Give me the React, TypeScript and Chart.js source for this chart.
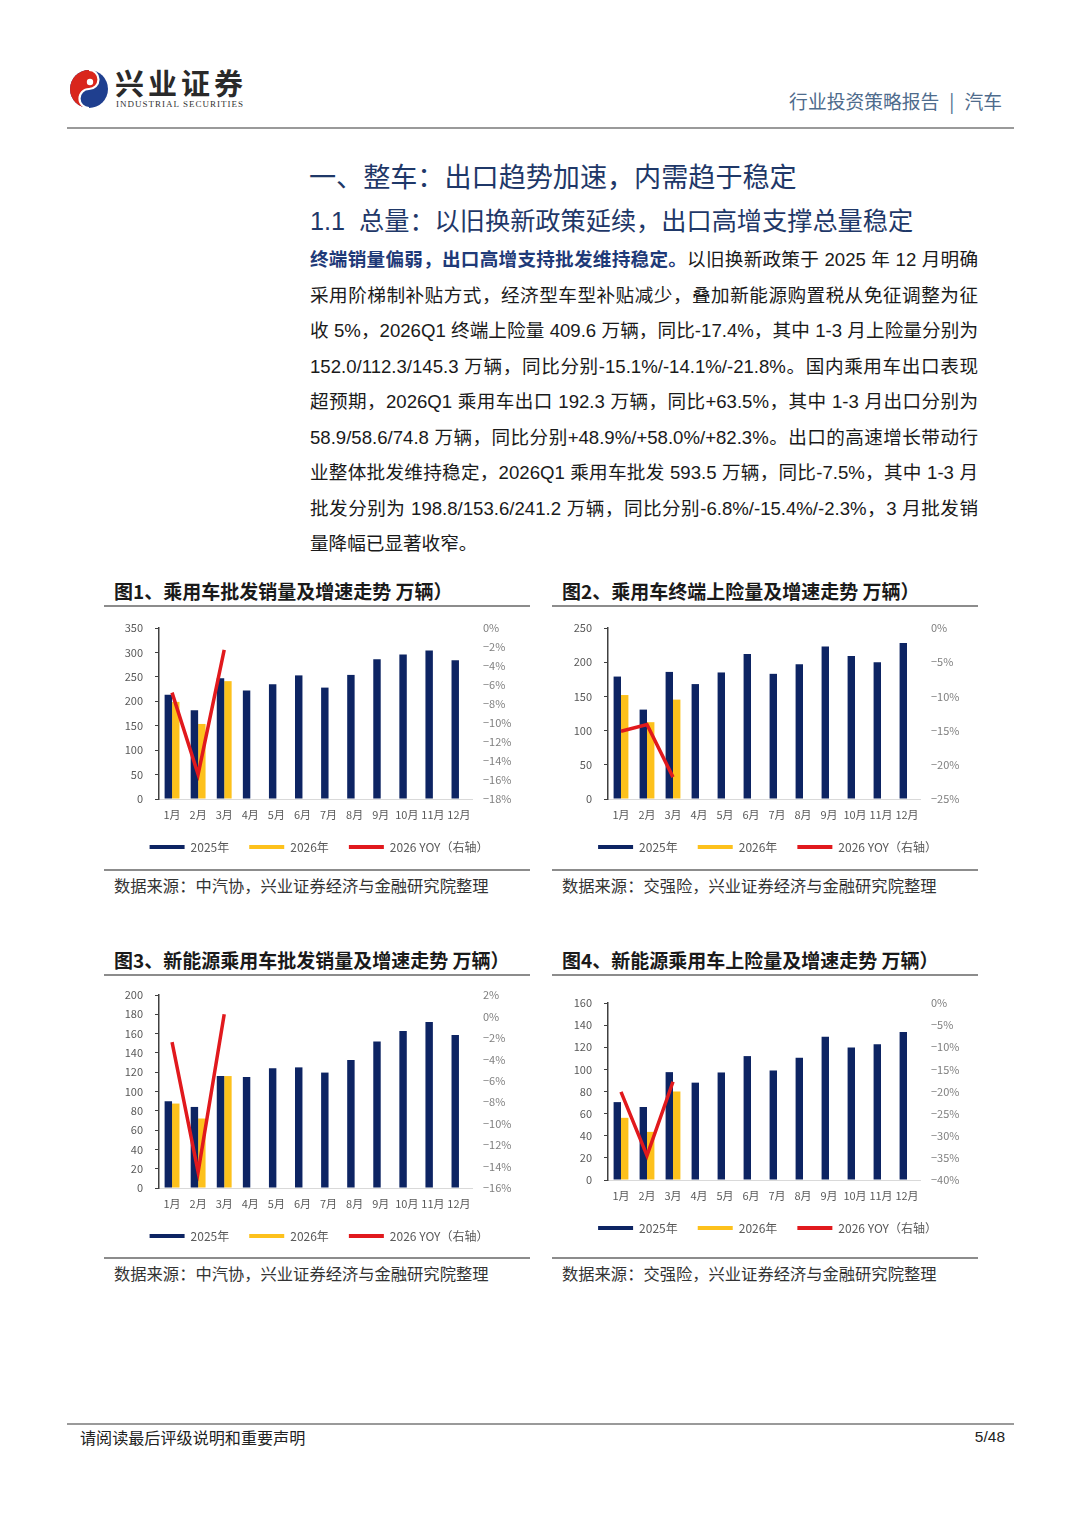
import React, { useEffect, useRef } from 'react';
import { Chart, registerables } from 'chart.js';

Chart.register(...registerables);
Chart.defaults.font.family = '"Noto Sans CJK SC", "Noto Sans", sans-serif';

// ---------- data ----------
const months = ['1月', '2月', '3月', '4月', '5月', '6月', '7月', '8月', '9月', '10月', '11月', '12月'];
const legend2025 = '2025年';
const legend2026 = '2026年';
const legendYoy = '2026 YOY（右轴）';

// 图1 乘用车批发销量（万辆）及2026同比（%）
const wholesale2025 = [213.3, 181.6, 246.9, 222, 235, 253, 228, 254, 286, 296, 304, 284];
const wholesale2026 = [198.8, 153.6, 241.2, null, null, null, null, null, null, null, null, null];
const wholesaleYoy = [-6.8, -15.4, -2.3, null, null, null, null, null, null, null, null, null];

// 图2 乘用车终端上险量
const insured2025 = [179.0, 130.7, 185.8, 168, 185, 212, 183, 197, 223, 209, 200, 228];
const insured2026 = [152.0, 112.3, 145.3, null, null, null, null, null, null, null, null, null];
const insuredYoy = [-15.1, -14.1, -21.8, null, null, null, null, null, null, null, null, null];

// 图3 新能源乘用车批发销量
const nevWholesale2025 = [90, 84, 116, 115, 124, 125, 119.6, 132.7, 151.7, 162.7, 172, 158.6];
const nevWholesale2026 = [87.5, 72, 116, null, null, null, null, null, null, null, null, null];
const nevWholesaleYoy = [-2.4, -14.5, 0.2, null, null, null, null, null, null, null, null, null];

// 图4 新能源乘用车上险量
const nevInsured2025 = [70.4, 66, 97.5, 88, 97.2, 112, 99, 110.5, 129.5, 119.8, 122.6, 133.8];
const nevInsured2026 = [56.2, 43.5, 80, null, null, null, null, null, null, null, null, null];
const nevInsuredYoy = [-20.1, -34.5, -17.8, null, null, null, null, null, null, null, null, null];

// axis ranges: [min, max, step]
const axis1Left = [0, 350, 50];
const axis1Right = [-18, 0, 2];
const axis2Left = [0, 250, 50];
const axis2Right = [-25, 0, 5];
const axis3Left = [0, 200, 20];
const axis3Right = [-16, 2, 2];
const axis4Left = [0, 160, 20];
const axis4Right = [-40, 0, 5];

const paragraphLines = [
  '采用阶梯制补贴方式，经济型车型补贴减少，叠加新能源购置税从免征调整为征',
  '收 5%，2026Q1 终端上险量 409.6 万辆，同比-17.4%，其中 1-3 月上险量分别为',
  '152.0/112.3/145.3 万辆，同比分别-15.1%/-14.1%/-21.8%。国内乘用车出口表现',
  '超预期，2026Q1 乘用车出口 192.3 万辆，同比+63.5%，其中 1-3 月出口分别为',
  '58.9/58.6/74.8 万辆，同比分别+48.9%/+58.0%/+82.3%。出口的高速增长带动行',
  '业整体批发维持稳定，2026Q1 乘用车批发 593.5 万辆，同比-7.5%，其中 1-3 月',
  '批发分别为 198.8/153.6/241.2 万辆，同比分别-6.8%/-15.4%/-2.3%，3 月批发销',
  '量降幅已显著收窄。',
];

// ---------- styles ----------
const NAVY = '#0d2463';
const YELLOW = '#fdc11c';
const RED = '#e1191d';
const CJK = '"Noto Sans CJK SC", sans-serif';
const BODY = '"Liberation Sans", "Noto Sans CJK SC", sans-serif';

function fmtPct(v: number) {
  if (v === 0) return '0%';
  return (v < 0 ? '\u2212' + Math.abs(v) : String(v)) + '%';
}

type ComboProps = {
  s2025: (number | null)[];
  s2026: (number | null)[];
  yoy: (number | null)[];
  left: number[];
  right: number[];
  L: number; R: number; T: number; B: number;
};

function ComboChart({ s2025, s2026, yoy, left, right, L, R, T, B }: ComboProps) {
  const ref = useRef<HTMLCanvasElement>(null);
  const LW = 51, RW = 58, PT = 19, XH = 22, PB = 2;
  const width = R - L + LW + RW;
  const height = B - T + PT + XH + 42 + PB;
  useEffect(() => {
    const chart = new Chart(ref.current as HTMLCanvasElement, {
      type: 'bar',
      data: {
        labels: months,
        datasets: [
          { type: 'bar', label: legend2025, data: s2025, backgroundColor: NAVY, borderWidth: 0, yAxisID: 'y', order: 1, categoryPercentage: 0.57, barPercentage: 1 } as any,
          { type: 'bar', label: legend2026, data: s2026, backgroundColor: YELLOW, borderWidth: 0, yAxisID: 'y', order: 2, categoryPercentage: 0.57, barPercentage: 1 } as any,
          { type: 'line', label: legendYoy, data: yoy, borderColor: RED, backgroundColor: RED, borderWidth: 3.5, pointRadius: 0, yAxisID: 'y1', order: 0, tension: 0, borderJoinStyle: 'miter' } as any,
        ],
      },
      options: {
        responsive: false,
        animation: false,
        devicePixelRatio: 1,
        layout: { padding: { left: 0, right: 0, top: PT, bottom: PB } },
        plugins: {
          tooltip: { enabled: false },
          legend: {
            position: 'bottom',
            labels: {
              boxWidth: 35,
              boxHeight: 4,
              padding: 20,
              color: '#595959',
              font: { size: 12, family: CJK },
              sort: (a: any, b: any) => a.datasetIndex - b.datasetIndex,
              generateLabels: (c: any) =>
                Chart.defaults.plugins.legend.labels.generateLabels(c).map((it: any) => ({ ...it, lineWidth: 0 })),
            },
          },
        },
        scales: {
          x: {
            type: 'category',
            offset: true,
            grid: { display: false, drawTicks: false },
            border: { display: true, color: '#d9d9d9', width: 1 },
            ticks: { autoSkip: false, maxRotation: 0, minRotation: 0, padding: 9, color: '#595959', font: { size: 11, family: CJK } },
            afterFit: (s: any) => { s.height = XH; },
          },
          y: {
            position: 'left',
            min: left[0], max: left[1],
            grid: { display: true, drawOnChartArea: false, drawTicks: true, tickLength: 4, color: '#404040', lineWidth: 1 },
            border: { display: true, color: '#404040', width: 1.5 },
            ticks: { stepSize: left[2], padding: 12, color: '#595959', font: { size: 11, family: CJK } },
            afterFit: (s: any) => { s.width = LW; },
          },
          y1: {
            position: 'right',
            min: right[0], max: right[1],
            grid: { display: false, drawTicks: false },
            border: { display: false },
            ticks: { stepSize: right[2], padding: 11, color: '#7f7f7f', font: { size: 11, family: CJK }, callback: (v: any) => fmtPct(Number(v)) },
            afterFit: (s: any) => { s.width = RW; },
          },
        },
      } as any,
    });
    return () => chart.destroy();
  }, []);
  return (
    <canvas
      ref={ref}
      width={width}
      height={height}
      style={{ position: 'absolute', left: L - LW, top: T - PT, width, height }}
    />
  );
}

function Txt({ x, cy, size, children, style }: any) {
  const lh = Math.round(size * 1.4);
  return (
    <div style={{ position: 'absolute', left: x, top: cy - lh / 2, fontSize: size, lineHeight: lh + 'px', whiteSpace: 'nowrap', ...style }}>
      {children}
    </div>
  );
}

function HLine({ x1, x2, y, color = '#8c8c8c', w = 1.5 }: any) {
  return <div style={{ position: 'absolute', left: x1, top: y - w / 2, width: x2 - x1, height: w, background: color }} />;
}

function ChartBlock({ x, titleY, title, source, sourceY, lineTop, lineBottom }: any) {
  return (
    <>
      <Txt x={x + 10} cy={titleY} size={19} style={{ fontFamily: CJK, fontWeight: 700, color: '#1a1a1a' }}>{title}</Txt>
      <HLine x1={x} x2={x + 426} y={lineTop} color="#8c8c8c" w={2} />
      <HLine x1={x} x2={x + 426} y={lineBottom} color="#8c8c8c" w={2} />
      <Txt x={x + 10} cy={sourceY} size={16.3} style={{ fontFamily: CJK, color: '#333' }}>{source}</Txt>
    </>
  );
}

export default function App() {
  useEffect(() => {
    document.body.style.margin = '0';
    document.body.style.background = '#ffffff';
  }, []);
  return (
    <div style={{ position: 'absolute', left: 0, top: 0, width: 1080, height: 1527, background: '#fff', overflow: 'hidden', fontFamily: CJK }}>
      {/* header */}
      <svg width="40" height="40" viewBox="0 0 40 40" style={{ position: 'absolute', left: 69, top: 69 }}>
        <circle cx="20" cy="20" r="19" fill="#1f3f8f" />
        <path d="M20 1 A19 19 0 0 0 20 39 A9.5 9.5 0 0 1 20 20 A9.5 9.5 0 0 0 20 1 Z" fill="#d9261c" />
        <path d="M20 1 A9.5 9.5 0 0 1 20 20 A9.5 9.5 0 0 0 20 39" fill="none" stroke="#fff" strokeWidth="2.2" />
        <circle cx="21" cy="13" r="3.2" fill="#fff" />
      </svg>
      <Txt x={115} cy={82.5} size={29} style={{ fontFamily: CJK, fontWeight: 700, color: '#2a2a2a', letterSpacing: 4 }}>兴业证券</Txt>
      <Txt x={116} cy={104} size={9} style={{ fontFamily: '"Liberation Serif", serif', color: '#333', letterSpacing: 1 }}>INDUSTRIAL SECURITIES</Txt>
      <div style={{ position: 'absolute', right: 78, top: 101 - 13, fontSize: 18.8, lineHeight: '26px', color: '#4e6b8c', fontFamily: CJK, whiteSpace: 'nowrap' }}>
        行业投资策略报告<span style={{ margin: '0 10px' }}>|</span>汽车
      </div>
      <HLine x1={67} x2={1014} y={128} color="#9a9a9a" w={1.5} />

      {/* headings */}
      <Txt x={309} cy={176} size={27.1} style={{ fontFamily: CJK, color: '#1f3868' }}>一、整车：出口趋势加速，内需趋于稳定</Txt>
      <Txt x={310} cy={221} size={25.2} style={{ fontFamily: BODY, color: '#1f3868' }}>1.1&nbsp;&nbsp;总量：以旧换新政策延续，出口高增支撑总量稳定</Txt>

      {/* paragraph */}
      <div style={{ position: 'absolute', left: 310, top: 260 - 17.75, width: 668, fontFamily: BODY, fontSize: 18.6, lineHeight: '35.5px', color: '#1a1a1a' }}>
        <div style={{ textAlign: 'justify', textAlignLast: 'justify', height: 35.5 }}>
          <span style={{ fontWeight: 700, color: '#1f3a78' }}>终端销量偏弱，出口高增支持批发维持稳定。</span>以旧换新政策于 2025 年 12 月明确
        </div>
        {paragraphLines.map((ln, i) => (
          <div key={i} style={{ textAlign: 'justify', textAlignLast: i === paragraphLines.length - 1 ? 'left' : 'justify', height: 35.5 }}>
            {ln}
          </div>
        ))}
      </div>

      {/* charts */}
      <ChartBlock x={104} titleY={590} lineTop={606} lineBottom={870} sourceY={885}
        title="图1、乘用车批发销量及增速走势 万辆）" source="数据来源：中汽协，兴业证券经济与金融研究院整理" />
      <ChartBlock x={552} titleY={590} lineTop={606} lineBottom={870} sourceY={885}
        title="图2、乘用车终端上险量及增速走势 万辆）" source="数据来源：交强险，兴业证券经济与金融研究院整理" />
      <ChartBlock x={104} titleY={959} lineTop={975} lineBottom={1258} sourceY={1273}
        title="图3、新能源乘用车批发销量及增速走势 万辆）" source="数据来源：中汽协，兴业证券经济与金融研究院整理" />
      <ChartBlock x={552} titleY={959} lineTop={975} lineBottom={1258} sourceY={1273}
        title="图4、新能源乘用车上险量及增速走势 万辆）" source="数据来源：交强险，兴业证券经济与金融研究院整理" />

      <ComboChart s2025={wholesale2025} s2026={wholesale2026} yoy={wholesaleYoy} left={axis1Left} right={axis1Right} L={159} R={472} T={628} B={799} />
      <ComboChart s2025={insured2025} s2026={insured2026} yoy={insuredYoy} left={axis2Left} right={axis2Right} L={608} R={920} T={628} B={799} />
      <ComboChart s2025={nevWholesale2025} s2026={nevWholesale2026} yoy={nevWholesaleYoy} left={axis3Left} right={axis3Right} L={159} R={472} T={995} B={1188} />
      <ComboChart s2025={nevInsured2025} s2026={nevInsured2026} yoy={nevInsuredYoy} left={axis4Left} right={axis4Right} L={608} R={920} T={1003} B={1180} />

      {/* footer */}
      <HLine x1={67} x2={1014} y={1424} color="#9a9a9a" w={1.5} />
      <Txt x={80} cy={1437} size={16.1} style={{ fontFamily: CJK, color: '#222' }}>请阅读最后评级说明和重要声明</Txt>
      <div style={{ position: 'absolute', right: 75, top: 1437 - 11, fontSize: 15.5, lineHeight: '22px', color: '#222', fontFamily: BODY }}>5/48</div>
    </div>
  );
}
